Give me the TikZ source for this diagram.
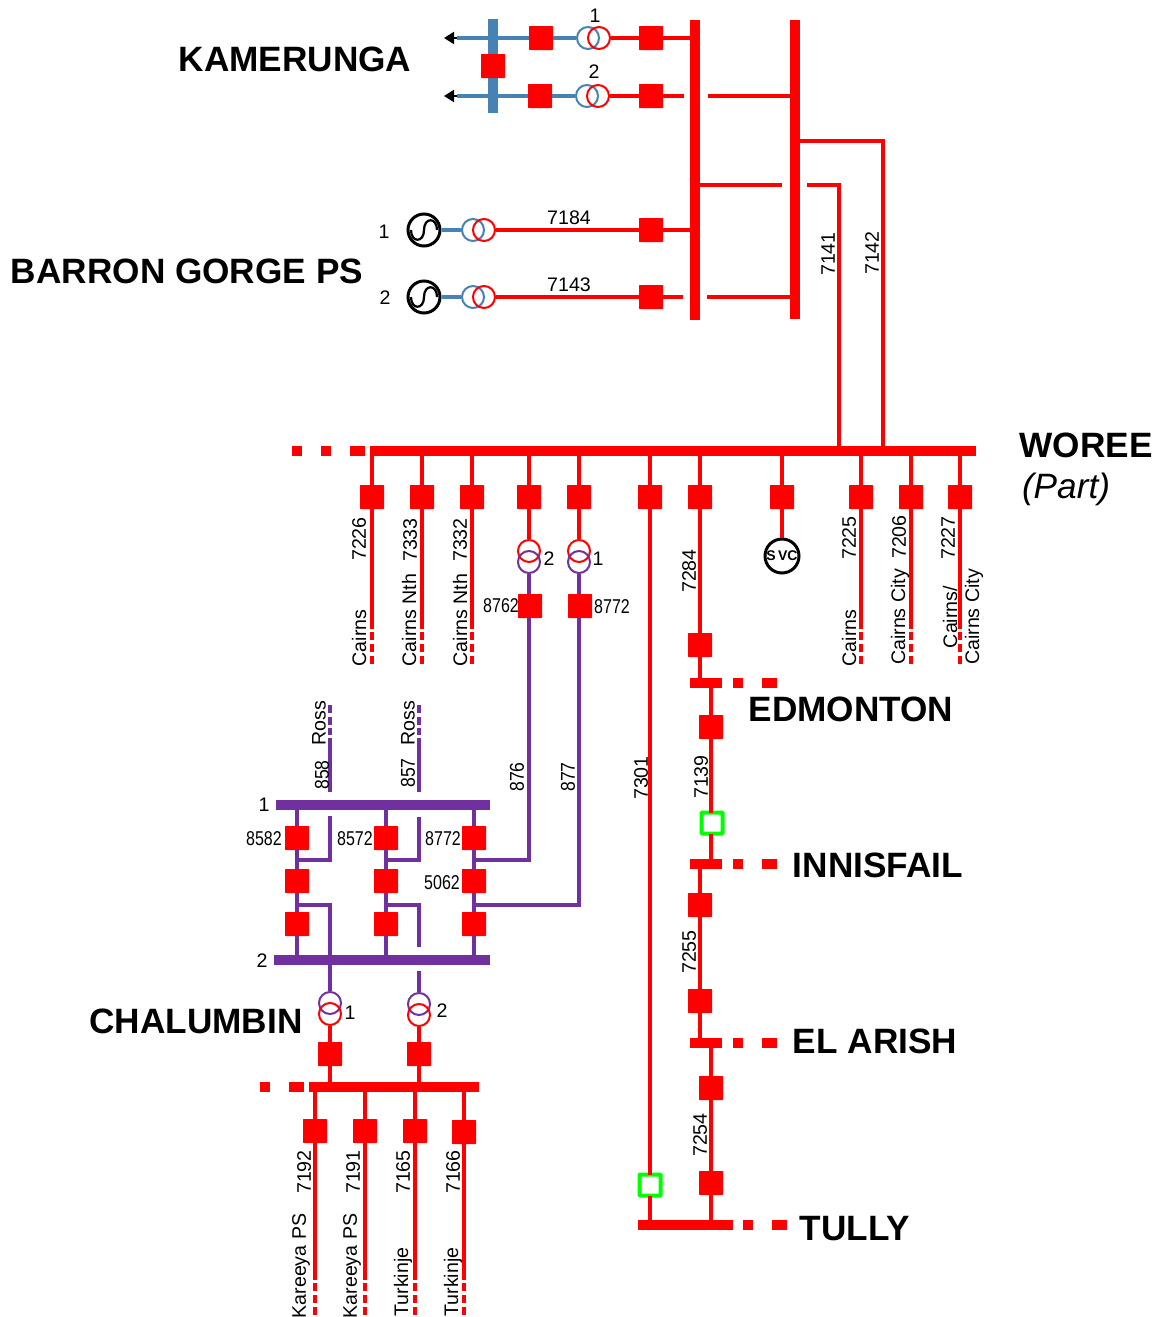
\documentclass[tikz,border=0pt]{standalone}
\usepackage{fontspec}
\setmainfont{Liberation Sans}
\newfontfamily\narrowfont[FakeStretch=0.8]{Liberation Sans}
\newfontfamily\midfont[FakeStretch=0.88]{Liberation Sans}
\usetikzlibrary{arrows.meta}
\definecolor{linered}{HTML}{FF0000}
\definecolor{lineblue}{HTML}{4682B4}
\definecolor{linepurple}{HTML}{7030A0}
\definecolor{boxgreen}{HTML}{00FF00}
\begin{document}
\begin{tikzpicture}[x=0.75pt,y=-0.75pt]
  \tikzstyle{breaker} = [rectangle, fill=linered, inner sep=0pt, outer sep=0pt, minimum size=18pt, rounded corners=0.4pt]
  \tikzstyle{openbox} = [rectangle, draw=boxgreen, fill=white, line width=3pt, inner sep=0pt, outer sep=0pt, minimum size=15.75pt, rounded corners=0.6pt]
  \tikzstyle{hbus} = [rectangle, fill=linered, inner sep=0pt, outer sep=0pt, minimum height=7.5pt]
  \tikzstyle{vbus} = [rectangle, fill=linered, inner sep=0pt, outer sep=0pt, minimum width=7.5pt]
  \tikzstyle{bitshort} = [hbus, minimum width=7.5pt]
  \tikzstyle{bitlong} = [hbus, minimum width=11.25pt]
  \tikzstyle{coil} = [circle, draw, line width=1.5pt, inner sep=0pt, minimum size=16.5pt]
  \tikzstyle{gen} = [circle, draw=black, line width=2.25pt, inner sep=0pt, minimum size=24pt]
  \tikzstyle{wave} = [black, line width=1.7pt]
  \tikzstyle{redline} = [line width=3pt, linered]
  \tikzstyle{blueline} = [line width=3pt, lineblue]
  \tikzstyle{purpline} = [line width=3pt, linepurple]
  \tikzstyle{redfeed} = [redline, shorten >=2.25pt]
  \tikzstyle{purpfeed} = [purpline, shorten >=2.25pt]
  \tikzstyle{reddash} = [redline, dash pattern=on 6pt off 3pt on 6pt off 3pt on 6pt]
  \tikzstyle{purpdash} = [purpline, dash pattern=on 5.25pt off 2.25pt on 6pt off 3pt on 6pt]
  \tikzstyle{outarrow} = [-{Triangle[length=7.5pt,width=9pt]}, black, line width=1.5pt]
  \tikzstyle{tag} = [inner sep=0pt, font=\fontsize{14.7pt}{16pt}\selectfont]
  \tikzstyle{vtag} = [tag, rotate=90]
  \tikzstyle{ntag} = [inner sep=0pt, font=\fontsize{15pt}{16pt}\narrowfont]
  \tikzstyle{nvtag} = [inner sep=0pt, rotate=90, font=\fontsize{15pt}{16pt}\midfont]
  \tikzstyle{site} = [inner sep=0pt, font=\fontsize{26.4pt}{28pt}\selectfont\bfseries]

  \useasboundingbox (0,0) rectangle (1157,1317);

  % Kamerunga and Barron Gorge
  \node (vbusa) [vbus, minimum height=225pt] at (695,170) {};
  \node (vbusb) [vbus, minimum height=224.25pt] at (795,169.5) {};
  \node (kbus) [vbus, fill=lineblue, minimum height=70.5pt] at (493,66) {};
  \node (kbrk) [breaker] at (493,66) {};
  \node (kb1) [breaker] at (541,38) {};
  \node (kb2) [breaker] at (540,96) {};
  \node (kt1b) [coil, draw=lineblue] at (588,38) {};
  \node (kt1r) [coil, draw=linered] at (599,38) {};
  \node (kt2b) [coil, draw=lineblue] at (587,96) {};
  \node (kt2r) [coil, draw=linered] at (598,96) {};
  \node (kc1) [breaker] at (651,38) {};
  \node (kc2) [breaker] at (651,96) {};
  \coordinate (ka1) at (457,38);
  \coordinate (ka2) at (457,96);
  \coordinate (kp1) at (444,38);
  \coordinate (kp2) at (444,96);
  \coordinate (gapa) at (684,96);
  \coordinate (gapb) at (708,96);
  \draw [blueline] (ka1) -- (kbus |- ka1) -- (kb1) -- (kt1b);
  \draw [blueline] (ka2) -- (kbus |- ka2) -- (kb2) -- (kt2b);
  \draw [outarrow] (ka1) -- (kp1);
  \draw [outarrow] (ka2) -- (kp2);
  \draw [redline] (kt1r) -- (kc1) -- (vbusa.west |- kc1);
  \draw [redline] (kt2r) -- (kc2) -- (gapa);
  \draw [redline] (gapb) -- (vbusb |- gapb);
  \node (lk1) [tag] at (595,16) {1};
  \node (lk2) [tag] at (594,72) {2};
  \node (kamerunga) [site] at (295,59) {KAMERUNGA};

  \node (gen1) [gen] at (424,230) {};
  \node (gen2) [gen] at (424,297) {};
  \draw [wave] (gen1) ++(-13,0) .. controls +(0,13) and +(0,13) .. ++(13,0) .. controls +(0,-13) and +(0,-13) .. ++(13,0);
  \draw [wave] (gen2) ++(-13,0) .. controls +(0,13) and +(0,13) .. ++(13,0) .. controls +(0,-13) and +(0,-13) .. ++(13,0);
  \node (gt1b) [coil, draw=lineblue] at (473,230) {};
  \node (gt1r) [coil, draw=linered] at (484,230) {};
  \node (gt2b) [coil, draw=lineblue] at (473,297) {};
  \node (gt2r) [coil, draw=linered] at (484,297) {};
  \node (b7184) [breaker] at (651,230) {};
  \node (b7143) [breaker] at (651,297) {};
  \coordinate (gapc) at (683,297);
  \coordinate (gapd) at (707,297);
  \draw [blueline] (gen1) -- (gt1b);
  \draw [blueline] (gen2) -- (gt2b);
  \draw [redline] (gt1r) -- (b7184) -- (vbusa.west |- b7184);
  \draw [redline] (gt2r) -- (b7143) -- (gapc);
  \draw [redline] (gapd) -- (vbusb |- gapd);
  \node (lg1) [tag] at (384,232) {1};
  \node (lg2) [tag] at (385,298) {2};
  \node (l7184) [tag] at (569,218) {7184};
  \node (l7143) [tag] at (569,285) {7143};
  \node (barron) [site] at (187,271) {BARRON GORGE PS};

  % Woree
  \node (woree) [hbus, minimum width=454.5pt] at (673,451) {};
  \node (wbit1) [bitshort] at (297,451) {};
  \node (wbit2) [bitshort] at (326,451) {};
  \node (wbit3) [bitlong] at (357.5,451) {};
  \node (lworee) [site] at (1086,445) {WOREE};
  \node (lpart) [site, font=\fontsize{26.4pt}{28pt}\itshape] at (1066,489) {(Part)};

  \coordinate (t7141) at (839,185);
  \coordinate (t7142) at (883,141);
  \coordinate (gape) at (782,185);
  \coordinate (gapf) at (807,185);
  \draw [redline] (vbusa.east |- gape) -- (gape);
  \draw [redline] (gapf) -- (t7141) -- (t7141 |- woree);
  \draw [redline] (vbusb.east |- t7142) -- (t7142) -- (t7142 |- woree);
  \node (l7141) [vtag] at (828,254) {7141};
  \node (l7142) [vtag] at (872,253) {7142};

  \node (b7226) [breaker] at (372,497) {};
  \node (b7333) [breaker] at (422,497) {};
  \node (b7332) [breaker] at (472,497) {};
  \node (b7225) [breaker] at (861,497) {};
  \node (b7206) [breaker] at (911,497) {};
  \node (b7227) [breaker] at (960,497) {};
  \coordinate (c7226) at (372,632);
  \coordinate (c7333) at (422,632);
  \coordinate (c7332) at (472,632);
  \coordinate (c7225) at (861,632);
  \coordinate (c7206) at (911,632);
  \coordinate (c7227) at (960,632);
  \coordinate (e7226) at (372,664);
  \coordinate (e7333) at (422,664);
  \coordinate (e7332) at (472,664);
  \coordinate (e7225) at (861,664);
  \coordinate (e7206) at (911,664);
  \coordinate (e7227) at (960,664);
  \draw [redfeed] (b7226 |- woree) -- (b7226) -- (c7226);
  \draw [redfeed] (b7333 |- woree) -- (b7333) -- (c7333);
  \draw [redfeed] (b7332 |- woree) -- (b7332) -- (c7332);
  \draw [redfeed] (b7225 |- woree) -- (b7225) -- (c7225);
  \draw [redfeed] (b7206 |- woree) -- (b7206) -- (c7206);
  \draw [redfeed] (b7227 |- woree) -- (b7227) -- (c7227);
  \draw [reddash] (c7226) -- (e7226);
  \draw [reddash] (c7333) -- (e7333);
  \draw [reddash] (c7332) -- (e7332);
  \draw [reddash] (c7225) -- (e7225);
  \draw [reddash] (c7206) -- (e7206);
  \draw [reddash] (c7227) -- (e7227);
  \node (l7226) [vtag] at (359,539) {7226};
  \node (l7333) [vtag] at (410,540) {7333};
  \node (l7332) [vtag] at (460,540) {7332};
  \node (l7225) [vtag] at (849,538) {7225};
  \node (l7206) [vtag] at (899,537) {7206};
  \node (l7227) [vtag] at (948,538) {7227};
  \node (n7226) [vtag] at (359,638) {Cairns};
  \node (n7333) [vtag] at (409,620) {Cairns Nth};
  \node (n7332) [vtag] at (460,620) {Cairns Nth};
  \node (n7225) [vtag] at (849,638) {Cairns};
  \node (n7206) [vtag] at (900,617) {Cairns City};
  \node (n7227) [vtag] at (950,617) {Cairns/};
  \node (m7227) [vtag] at (974,617) {Cairns City};

  % SVC
  \node (bsvc) [breaker] at (782,497) {};
  \node (svc) [circle, draw=black, line width=2.25pt, inner sep=0pt, minimum size=25.5pt, font=\fontsize{10.5pt}{12pt}\selectfont\bfseries] at (782,556) {S\,VC};
  \draw [redline] (bsvc |- woree) -- (bsvc) -- (svc);

  % links to Chalumbin
  \node (brb) [breaker] at (529,497) {};
  \node (bra) [breaker] at (579,497) {};
  \node (trb) [coil, draw=linered] at (529,551) {};
  \node (tra) [coil, draw=linered] at (579,551) {};
  \node (tpb) [coil, draw=linepurple] at (529,562) {};
  \node (tpa) [coil, draw=linepurple] at (579,562) {};
  \node (b8762) [breaker] at (530,606) {};
  \node (b8772) [breaker] at (580,606) {};
  \draw [redline] (brb |- woree) -- (brb) -- (trb);
  \draw [redline] (bra |- woree) -- (bra) -- (tra);
  \node (ltb) [tag] at (549,559) {2};
  \node (lta) [tag] at (598,559) {1};
  \node (l8762) [ntag] at (501,606) {8762};
  \node (l8772) [ntag] at (612,607) {8772};

  % Chalumbin
  \node (chbusa) [hbus, fill=linepurple, minimum width=160.5pt] at (383,805) {};
  \node (chbusb) [hbus, fill=linepurple, minimum width=162pt] at (382,960) {};
  \node (b8582) [breaker] at (297,838) {};
  \node (b8572) [breaker] at (386,838) {};
  \node (b8772b) [breaker] at (474,838) {};
  \node (bm1) [breaker] at (297,881) {};
  \node (bm2) [breaker] at (386,881) {};
  \node (b5062) [breaker] at (474,881) {};
  \node (bl1) [breaker] at (297,924) {};
  \node (bl2) [breaker] at (386,924) {};
  \node (bl3) [breaker] at (474,924) {};
  \draw [purpline] (b8582 |- chbusa) -- (b8582) -- (bm1) -- (bl1) -- (bl1 |- chbusb);
  \draw [purpline] (b8572 |- chbusa) -- (b8572) -- (bm2) -- (bl2) -- (bl2 |- chbusb);
  \draw [purpline] (b8772b |- chbusa) -- (b8772b) -- (b5062) -- (bl3) -- (bl3 |- chbusb);

  \coordinate (t876) at (529,860);
  \coordinate (t877) at (579,905);
  \draw [purpline] (tpb) -- (tpb |- b8762.north);
  \draw [purpline] (t876 |- b8762.south) -- (t876) -- (b8772b |- t876);
  \draw [purpline] (tpa) -- (tpa |- b8772.north);
  \draw [purpline] (t877 |- b8772.south) -- (t877) -- (b5062 |- t877);

  \coordinate (r858) at (330,792);
  \coordinate (r857) at (419,792);
  \coordinate (c858) at (330,735);
  \coordinate (c857) at (419,735);
  \coordinate (e858) at (330,705);
  \coordinate (e857) at (419,705);
  \draw [purpfeed] (r858) -- (c858);
  \draw [purpfeed] (r857) -- (c857);
  \draw [purpdash] (c858) -- (e858);
  \draw [purpdash] (c857) -- (e857);
  \coordinate (s858) at (330,816);
  \coordinate (s857) at (419,817);
  \coordinate (k858) at (330,860);
  \coordinate (k857) at (419,860);
  \draw [purpline] (s858) -- (k858) -- (b8582 |- k858);
  \draw [purpline] (s857) -- (k857) -- (b8572 |- k857);
  \coordinate (u858) at (330,905);
  \coordinate (u857) at (419,905);
  \coordinate (v857) at (419,947);
  \coordinate (w857) at (419,971);

  \node (chta) [coil, draw=linepurple] at (330,1003) {};
  \node (chtb) [coil, draw=linepurple] at (419,1004) {};
  \node (chra) [coil, draw=linered] at (330,1014) {};
  \node (chrb) [coil, draw=linered] at (419,1015) {};
  \draw [purpline] (bm1 |- u858) -- (u858) -- (chta);
  \draw [purpline] (bm2 |- u857) -- (u857) -- (v857);
  \draw [purpline] (w857) -- (chtb);

  \node (l858) [nvtag] at (322,775) {858};
  \node (l857) [nvtag] at (408,773) {857};
  \node (lr858) [vtag] at (319,723) {Ross};
  \node (lr857) [vtag] at (408,723) {Ross};
  \node (l876) [nvtag] at (517,777) {876};
  \node (l877) [nvtag] at (568,777) {877};
  \node (lbusa) [tag] at (264,805) {1};
  \node (lbusb) [tag] at (262,961) {2};
  \node (l8582) [ntag] at (264,839) {8582};
  \node (l8572) [ntag] at (355,839) {8572};
  \node (l8772b) [ntag] at (443,839) {8772};
  \node (l5062) [ntag] at (442,883) {5062};
  \node (lcha) [tag] at (350,1013) {1};
  \node (lchb) [tag] at (442,1011) {2};
  \node (chalumbin) [site] at (196,1021) {CHALUMBIN};

  % Chalumbin 132 side
  \node (chbusc) [hbus, minimum width=127.5pt] at (394,1087) {};
  \node (cbit1) [bitshort] at (264.5,1087) {};
  \node (cbit2) [bitlong] at (296,1087) {};
  \node (bcha) [breaker] at (330,1054) {};
  \node (bchb) [breaker] at (419,1054) {};
  \draw [redline] (chra) -- (bcha) -- (bcha |- chbusc);
  \draw [redline] (chrb) -- (bchb) -- (bchb |- chbusc);

  \node (b7192) [breaker] at (315,1131) {};
  \node (b7191) [breaker] at (365,1131) {};
  \node (b7165) [breaker] at (415,1131) {};
  \node (b7166) [breaker] at (464,1132) {};
  \coordinate (c7192) at (315,1283);
  \coordinate (c7191) at (365,1283);
  \coordinate (c7165) at (415,1283);
  \coordinate (c7166) at (464,1283);
  \coordinate (e7192) at (315,1315);
  \coordinate (e7191) at (365,1315);
  \coordinate (e7165) at (415,1315);
  \coordinate (e7166) at (464,1315);
  \draw [redfeed] (b7192 |- chbusc) -- (b7192) -- (c7192);
  \draw [redfeed] (b7191 |- chbusc) -- (b7191) -- (c7191);
  \draw [redfeed] (b7165 |- chbusc) -- (b7165) -- (c7165);
  \draw [redfeed] (b7166 |- chbusc) -- (b7166) -- (c7166);
  \draw [reddash] (c7192) -- (e7192);
  \draw [reddash] (c7191) -- (e7191);
  \draw [reddash] (c7165) -- (e7165);
  \draw [reddash] (c7166) -- (e7166);
  \node (l7192) [vtag] at (304,1172) {7192};
  \node (l7191) [vtag] at (353,1172) {7191};
  \node (l7165) [vtag] at (403,1172) {7165};
  \node (l7166) [vtag] at (453,1172) {7166};
  \node (n7192) [vtag] at (301,1266) {Kareeya PS};
  \node (n7191) [vtag] at (352,1266) {Kareeya PS};
  \node (n7165) [vtag] at (403,1282) {Turkinje};
  \node (n7166) [vtag] at (453,1282) {Turkinje};

  % Coast line down to Tully
  \node (edbus) [hbus, minimum width=24pt] at (706,683) {};
  \node (edbit1) [bitshort] at (737.5,683) {};
  \node (edbit2) [bitlong] at (769,683) {};
  \node (inbus) [hbus, minimum width=24pt] at (706,864) {};
  \node (inbit1) [bitshort] at (737.5,864) {};
  \node (inbit2) [bitlong] at (769,864) {};
  \node (elbus) [hbus, minimum width=24pt] at (706,1043) {};
  \node (elbit1) [bitshort] at (737.5,1043) {};
  \node (elbit2) [bitlong] at (769,1043) {};
  \node (tubus) [hbus, minimum width=71.25pt] at (685.5,1225) {};
  \node (tubit1) [bitshort] at (748,1225) {};
  \node (tubit2) [bitlong] at (779.5,1225) {};

  \node (b7301) [breaker] at (650,497) {};
  \node (o7301) [openbox] at (650,1185) {};
  \draw [redline] (b7301 |- woree) -- (b7301) -- (o7301);
  \draw [redline] (o7301) -- (o7301 |- tubus);

  \node (b7284) [breaker] at (700,497) {};
  \node (a7284) [breaker] at (700,645) {};
  \draw [redline] (b7284 |- woree) -- (b7284) -- (a7284) -- (a7284 |- edbus);

  \node (b7139) [breaker] at (711,727) {};
  \node (o7139) [openbox] at (712,823) {};
  \draw [redline] (b7139 |- edbus) -- (b7139) -- (b7139 |- o7139.north);
  \draw [redline] (b7139 |- o7139.south) -- (b7139 |- inbus);

  \node (b7255) [breaker] at (700,905) {};
  \node (a7255) [breaker] at (700,1001) {};
  \draw [redline] (b7255 |- inbus) -- (b7255) -- (a7255) -- (a7255 |- elbus);

  \node (b7254) [breaker] at (711,1088) {};
  \node (a7254) [breaker] at (711,1183) {};
  \draw [redline] (b7254 |- elbus) -- (b7254) -- (a7254) -- (a7254 |- tubus);

  \node (l7284) [vtag] at (689,571) {7284};
  \node (l7301) [vtag] at (641,778) {7301};
  \node (l7139) [vtag] at (701,777) {7139};
  \node (l7255) [vtag] at (689,952) {7255};
  \node (l7254) [vtag] at (700,1135) {7254};
  \node (edmonton) [site] at (851,709) {EDMONTON};
  \node (innisfail) [site] at (878,865) {INNISFAIL};
  \node (elarish) [site] at (875,1041) {EL ARISH};
  \node (tully) [site] at (855,1229) {TULLY};
\end{tikzpicture}
\end{document}
